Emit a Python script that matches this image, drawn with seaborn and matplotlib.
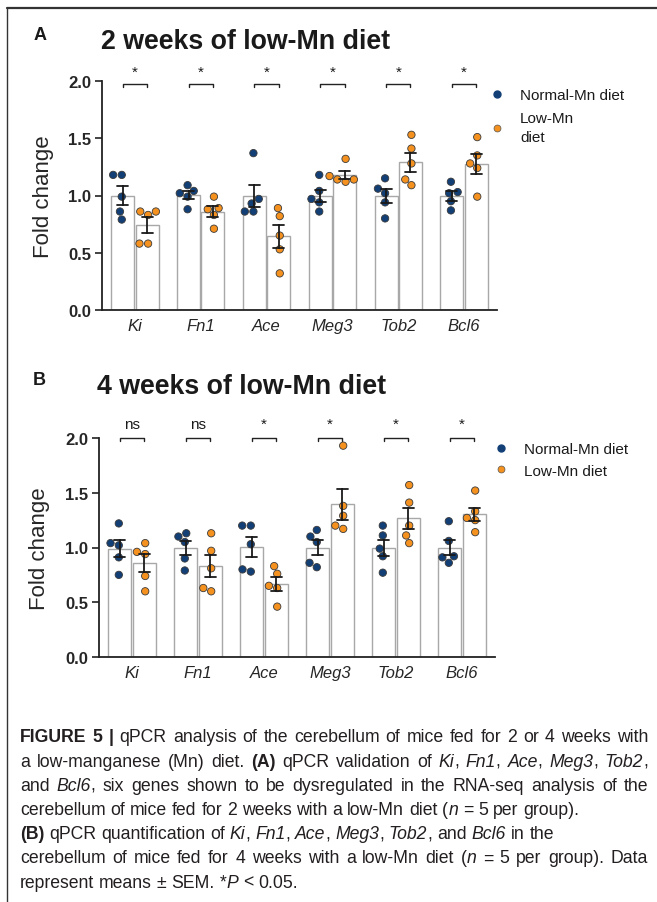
import matplotlib
matplotlib.use("Agg")
import matplotlib.pyplot as plt
import seaborn as sns
import pandas as pd
from matplotlib.lines import Line2D
from matplotlib.transforms import IdentityTransform

# ---------------- data ----------------
genes = ["Ki", "Fn1", "Ace", "Meg3", "Tob2", "Bcl6"]
group_labels = ["Normal-Mn diet", "Low-Mn diet"]

# Panel A: 2 weeks
a_normal = [[1.18, 1.18, 0.99, 0.86, 0.79],
            [1.09, 1.02, 1.04, 0.99, 0.88],
            [1.37, 0.93, 0.97, 0.86, 0.86],
            [1.18, 1.04, 0.97, 0.94, 0.86],
            [1.15, 1.02, 1.06, 0.94, 0.80],
            [1.12, 1.02, 1.03, 0.95, 0.87]]
a_low = [[0.86, 0.83, 0.86, 0.58, 0.58],
         [0.99, 0.88, 0.89, 0.83, 0.71],
         [0.89, 0.82, 0.65, 0.53, 0.32],
         [1.32, 1.17, 1.14, 1.12, 1.14],
         [1.53, 1.41, 1.28, 1.09, 1.14],
         [1.51, 1.35, 1.28, 1.24, 0.99]]
# Panel B: 4 weeks
b_normal = [[1.22, 1.02, 1.04, 0.91, 0.75],
            [1.13, 1.10, 1.05, 0.90, 0.79],
            [1.20, 1.20, 1.03, 0.78, 0.80],
            [1.16, 1.10, 1.05, 0.82, 0.86],
            [1.20, 1.11, 0.99, 0.92, 0.77],
            [1.24, 1.06, 0.92, 0.91, 0.86]]
b_low = [[1.04, 0.94, 0.96, 0.74, 0.60],
         [1.13, 0.97, 0.81, 0.60, 0.63],
         [0.83, 0.76, 0.65, 0.63, 0.46],
         [1.93, 1.38, 1.29, 1.17, 1.20],
         [1.57, 1.41, 1.20, 1.11, 1.04],
         [1.52, 1.33, 1.27, 1.25, 1.14]]

sig_a = ["*", "*", "*", "*", "*", "*"]
sig_b = ["ns", "ns", "*", "*", "*", "*"]
yticks = [0.0, 0.5, 1.0, 1.5, 2.0]
ytick_labels = ["0.0", "0.5", "1.0", "1.5", "2.0"]

title_a = "2 weeks of low-Mn diet"
title_b = "4 weeks of low-Mn diet"
ylabel = "Fold change"

caption_lines = [
    ("§FIGURE 5 |§ qPCR analysis of the cerebellum of mice fed for 2 or 4 weeks with", True),
    ("a low-manganese (Mn) diet. §(A)§ qPCR validation of ~Ki~, ~Fn1~, ~Ace~, ~Meg3~, ~Tob2~,", True),
    ("and ~Bcl6~, six genes shown to be dysregulated in the RNA-seq analysis of the", True),
    ("cerebellum of mice fed for 2 weeks with a low-Mn diet (~n~ = 5 per group).", False),
    ("§(B)§ qPCR quantification of ~Ki~, ~Fn1~, ~Ace~, ~Meg3~, ~Tob2~, and ~Bcl6~ in the", False),
    ("cerebellum of mice fed for 4 weeks with a low-Mn diet (~n~ = 5 per group). Data", True),
    ("represent means \u00b1 SEM. *~P~ < 0.05.", False),
]

BLUE = "#123f76"
ORANGE = "#f5911e"
W, H = 657, 903


def make_df(normal, low):
    rows = []
    for g, vals in zip(genes, normal):
        for v in vals:
            rows.append((g, group_labels[0], v))
    for g, vals in zip(genes, low):
        for v in vals:
            rows.append((g, group_labels[1], v))
    return pd.DataFrame(rows, columns=["gene", "group", "fc"])


sns.set_theme(style="ticks")
plt.rcParams["font.family"] = ["Liberation Sans", "DejaVu Sans"]
plt.rcParams["text.color"] = "#1a1a1a"

fig = plt.figure(figsize=(W / 100, H / 100), dpi=100)


def fx(x):
    return x / W


def fy(y):
    return 1 - y / H


def panel(rect, normal, low, sigs, brk_y, sig_y, leg_anchor, leg_labels, leg_spacing):
    ax = fig.add_axes(rect)
    df = make_df(normal, low)
    sns.barplot(data=df, x="gene", y="fc", hue="group", order=genes,
                hue_order=group_labels,
                palette={group_labels[0]: "white", group_labels[1]: "white"},
                edgecolor="#a8a8a8", linewidth=1.0, width=0.74, gap=0.06,
                errorbar="se", capsize=0.33,
                err_kws={"color": "#1a1a1a", "linewidth": 1.3, "zorder": 5},
                legend=False, ax=ax)
    sns.swarmplot(data=df, x="gene", y="fc", hue="group", order=genes,
                  hue_order=group_labels,
                  palette={group_labels[0]: BLUE, group_labels[1]: ORANGE},
                  dodge=True, size=5.3, edgecolor="#3a3a3a", linewidth=0.6,
                  legend=False, ax=ax, zorder=4)
    ax.set_xlim(-0.5, 5.5)
    ax.set_ylim(0, 2.0)
    ax.set_yticks(yticks)
    ax.set_yticklabels(ytick_labels)
    for lab in ax.get_yticklabels():
        lab.set_fontweight("bold")
    ax.tick_params(axis="y", length=5, width=1.2, labelsize=12, pad=3, color="#222")
    ax.tick_params(axis="x", length=0, labelsize=12, pad=6)
    for lab in ax.get_xticklabels():
        lab.set_fontstyle("italic")
    ax.set_xlabel("")
    ax.set_ylabel(ylabel, fontsize=16)
    ax.yaxis.label.set_verticalalignment("center")
    ax.yaxis.set_label_coords(-0.149, 0.5)
    sns.despine(ax=ax)
    for s in ("left", "bottom"):
        ax.spines[s].set_linewidth(1.3)
        ax.spines[s].set_color("#222")
    ax.patch.set_alpha(0)
    for i, s in enumerate(sigs):
        x0, x1 = i - 0.185, i + 0.185
        ax.plot([x0, x0, x1, x1], [brk_y - 0.025, brk_y, brk_y, brk_y - 0.025],
                color="#222", lw=1.0, clip_on=False)
        ax.text(i, sig_y, s, ha="center", va="center", fontsize=11, clip_on=False)
    handles = [Line2D([], [], marker="o", ls="", color=BLUE, markersize=5),
               Line2D([], [], marker="o", ls="", color=ORANGE, markersize=5,
                      markeredgecolor="#555", markeredgewidth=0.5)]
    leg = ax.legend(handles, leg_labels, loc="upper left",
                    bbox_to_anchor=(fx(leg_anchor[0]), fy(leg_anchor[1])),
                    bbox_transform=fig.transFigure, frameon=False, fontsize=11,
                    handlelength=0.8, handletextpad=1.1, borderpad=0, borderaxespad=0,
                    labelspacing=leg_spacing)
    for t in leg.get_texts():
        t.set_linespacing(1.45)
    return ax


# Panel A
panel([fx(102), fy(311), fx(497) - fx(102), fy(82) - fy(311)],
      a_normal, a_low, sig_a, 1.97, 2.08, (491, 89),
      ["Normal-Mn diet", "Low-Mn\ndiet"], 0.6)
# Panel B
panel([fx(99), fy(658), fx(495) - fx(99), fy(439) - fy(658)],
      b_normal, b_low, sig_b, 2.0, 2.13, (495, 443),
      ["Normal-Mn diet", "Low-Mn diet"], 0.5)

# titles and panel letters
fig.text(fx(246), fy(42), title_a, ha="center", va="center", fontsize=19.3, fontweight="bold")
fig.text(fx(242), fy(387), title_b, ha="center", va="center", fontsize=19.3, fontweight="bold")
fig.text(fx(40), fy(36), "A", ha="center", va="center", fontsize=13, fontweight="bold")
fig.text(fx(39), fy(381), "B", ha="center", va="center", fontsize=13, fontweight="bold")

# frame lines
fig.add_artist(Line2D([fx(7), 1], [fy(8.5), fy(8.5)], transform=fig.transFigure,
                      color="#333", lw=1.6))
fig.add_artist(Line2D([fx(7), fx(7)], [fy(8.5), 0], transform=fig.transFigure,
                      color="#333", lw=1.0))


# caption
def parse(line):
    words = []
    cur = []
    buf = ""
    bold = ital = False
    for ch in line:
        if ch in "§~":
            if buf:
                cur.append((buf, bold, ital))
                buf = ""
            if ch == "§":
                bold = not bold
            else:
                ital = not ital
        elif ch == " ":
            if buf:
                cur.append((buf, bold, ital))
                buf = ""
            if cur:
                words.append(cur)
            cur = []
        else:
            buf += ch
    if buf:
        cur.append((buf, bold, ital))
    if cur:
        words.append(cur)
    return words


renderer = fig.canvas.get_renderer()
CAP_FS = 12.7
x_left, x_right = 20, 648
y0, dy = 738, 24.2
t1 = fig.text(0, 0, "a a", fontsize=CAP_FS)
t2 = fig.text(0, 0, "aa", fontsize=CAP_FS)
space_w = t1.get_window_extent(renderer).width - t2.get_window_extent(renderer).width
t1.remove()
t2.remove()
for li, (line, justify) in enumerate(caption_lines):
    ypix = H - (y0 + li * dy)
    words = parse(line)
    wobjs = []
    widths = []
    for w in words:
        pieces = []
        ww = 0
        for txt, b, it in w:
            t = fig.text(0, ypix, txt, transform=IdentityTransform(), fontsize=CAP_FS,
                         fontweight="bold" if b else "normal",
                         fontstyle="italic" if it else "normal",
                         va="center", ha="left", color="#231f20")
            bb = t.get_window_extent(renderer)
            pieces.append((t, bb.width))
            ww += bb.width
        wobjs.append(pieces)
        widths.append(ww)
    if justify and len(words) > 1:
        gap = (x_right - x_left - sum(widths)) / (len(words) - 1)
        gap = max(gap, space_w * 0.6)
    else:
        gap = space_w
    x = x_left
    for pieces, ww in zip(wobjs, widths):
        xx = x
        for t, pw in pieces:
            t.set_x(xx)
            xx += pw
        x += ww + gap

fig.savefig("out.png", dpi=100)
